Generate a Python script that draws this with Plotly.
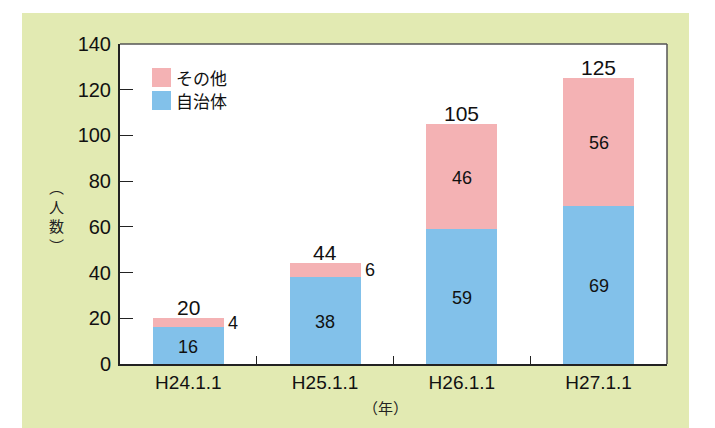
import plotly.graph_objects as go

categories = ["H24.1.1", "H25.1.1", "H26.1.1", "H27.1.1"]
jichitai = [16, 38, 59, 69]
sonota = [4, 6, 46, 56]
series_names = ["自治体", "その他"]
y_ticks = [0, 20, 40, 60, 80, 100, 120, 140]

totals = [a + b for a, b in zip(jichitai, sonota)]

W, H = 715, 428
OFF = 8  # page body margin
ML, MR, MT, MB = 112, 56, 36, 72
PW, PH = W - ML - MR, H - MT - MB

def px_x(px):
    return (px - OFF - ML) / PW

def px_y(py):
    return (H - MB - (py - OFF)) / PH

BLUE = "#82c1ea"
PINK = "#f4b2b4"
GREEN = "#e2eab2"
FONT = "Liberation Sans, Arial, Noto Sans CJK JP"
CJK = "Noto Sans CJK JP, Liberation Sans"

fig = go.Figure()
fig.add_trace(go.Bar(x=categories, y=jichitai, name=series_names[0],
                     marker=dict(color=BLUE, line=dict(width=0)), width=0.52,
                     showlegend=False))
fig.add_trace(go.Bar(x=categories, y=sonota, name=series_names[1],
                     marker=dict(color=PINK, line=dict(width=0)), width=0.52,
                     showlegend=False))

ann = []
for i, c in enumerate(categories):
    ann.append(dict(x=c, y=jichitai[i] / 2, text=str(jichitai[i]), showarrow=False,
                    xanchor="center", yanchor="middle",
                    font=dict(size=18, color="#111", family=FONT), yshift=-1))
    if sonota[i] < 10:
        ann.append(dict(x=i + 0.26, y=jichitai[i] + sonota[i] / 2, text=str(sonota[i]),
                        showarrow=False, xanchor="left", yanchor="middle", xshift=2,
                        font=dict(size=18, color="#111", family=FONT)))
    else:
        ann.append(dict(x=c, y=jichitai[i] + sonota[i] / 2, text=str(sonota[i]),
                        showarrow=False, xanchor="center", yanchor="middle",
                        font=dict(size=18, color="#111", family=FONT), yshift=-1))
    ann.append(dict(x=c, y=totals[i], text=str(totals[i]), showarrow=False,
                    xanchor="center", yanchor="bottom", yshift=-3,
                    font=dict(size=21, color="#111", family=FONT)))

legend_items = [(series_names[1], PINK, 68), (series_names[0], BLUE, 91)]
shapes = [
    dict(type="rect", xref="paper", yref="paper", x0=px_x(22), x1=px_x(689),
         y0=px_y(440), y1=px_y(13), fillcolor=GREEN, line=dict(width=0), layer="below"),
    dict(type="rect", xref="paper", yref="paper", x0=0, x1=1, y0=0, y1=1,
         fillcolor="white", line=dict(width=0), layer="below"),
    dict(type="line", xref="paper", yref="paper", x0=0, x1=1, y0=1, y1=1,
         line=dict(color="#555", width=1.5)),
    dict(type="line", xref="paper", yref="paper", x0=1, x1=1, y0=0, y1=1,
         line=dict(color="#555", width=1.5)),
]
for name, col, top in legend_items:
    shapes.append(dict(type="rect", xref="paper", yref="paper",
                       x0=px_x(152), x1=px_x(171), y0=px_y(top + 19), y1=px_y(top),
                       fillcolor=col, line=dict(width=0)))
    ann.append(dict(xref="paper", yref="paper", x=px_x(174), y=px_y(top + 9.5),
                    text=name, showarrow=False, xanchor="left", yanchor="middle",
                    font=dict(size=17, color="#111", family=CJK)))

ann.append(dict(xref="paper", yref="paper", x=px_x(56), y=px_y(216),
                text="︵<br>人<br>数<br>︶", showarrow=False,
                xanchor="center", yanchor="middle",
                font=dict(size=15, color="#222", family=CJK)))
ann.append(dict(xref="paper", yref="paper", x=px_x(385), y=px_y(407),
                text="（年）", showarrow=False, xanchor="center", yanchor="middle",
                font=dict(size=15, color="#222", family=CJK)))

fig.update_layout(
    width=W, height=H,
    margin=dict(l=ML, r=MR, t=MT, b=MB, autoexpand=False),
    paper_bgcolor="white", plot_bgcolor="rgba(0,0,0,0)",
    barmode="stack", bargap=0.48,
    showlegend=False,
    annotations=ann, shapes=shapes,
    xaxis=dict(type="category", range=[-0.5, 3.5], showline=True, linecolor="#222",
               linewidth=2, ticks="inside", ticklen=8, tickwidth=1.2, tickcolor="#222",
               tickson="boundaries", showgrid=False, zeroline=False, automargin=False,
               tickfont=dict(size=19, color="#111", family=FONT)),
    yaxis=dict(range=[0, 140], tickvals=y_ticks, showline=True, linecolor="#222",
               linewidth=2, ticks="inside", ticklen=13, tickwidth=1.2, tickcolor="#222",
               showgrid=False, zeroline=False, ticklabelstandoff=3, automargin=False,
               tickfont=dict(size=20, color="#111", family=FONT)),
)

fig.write_html("out.html")
